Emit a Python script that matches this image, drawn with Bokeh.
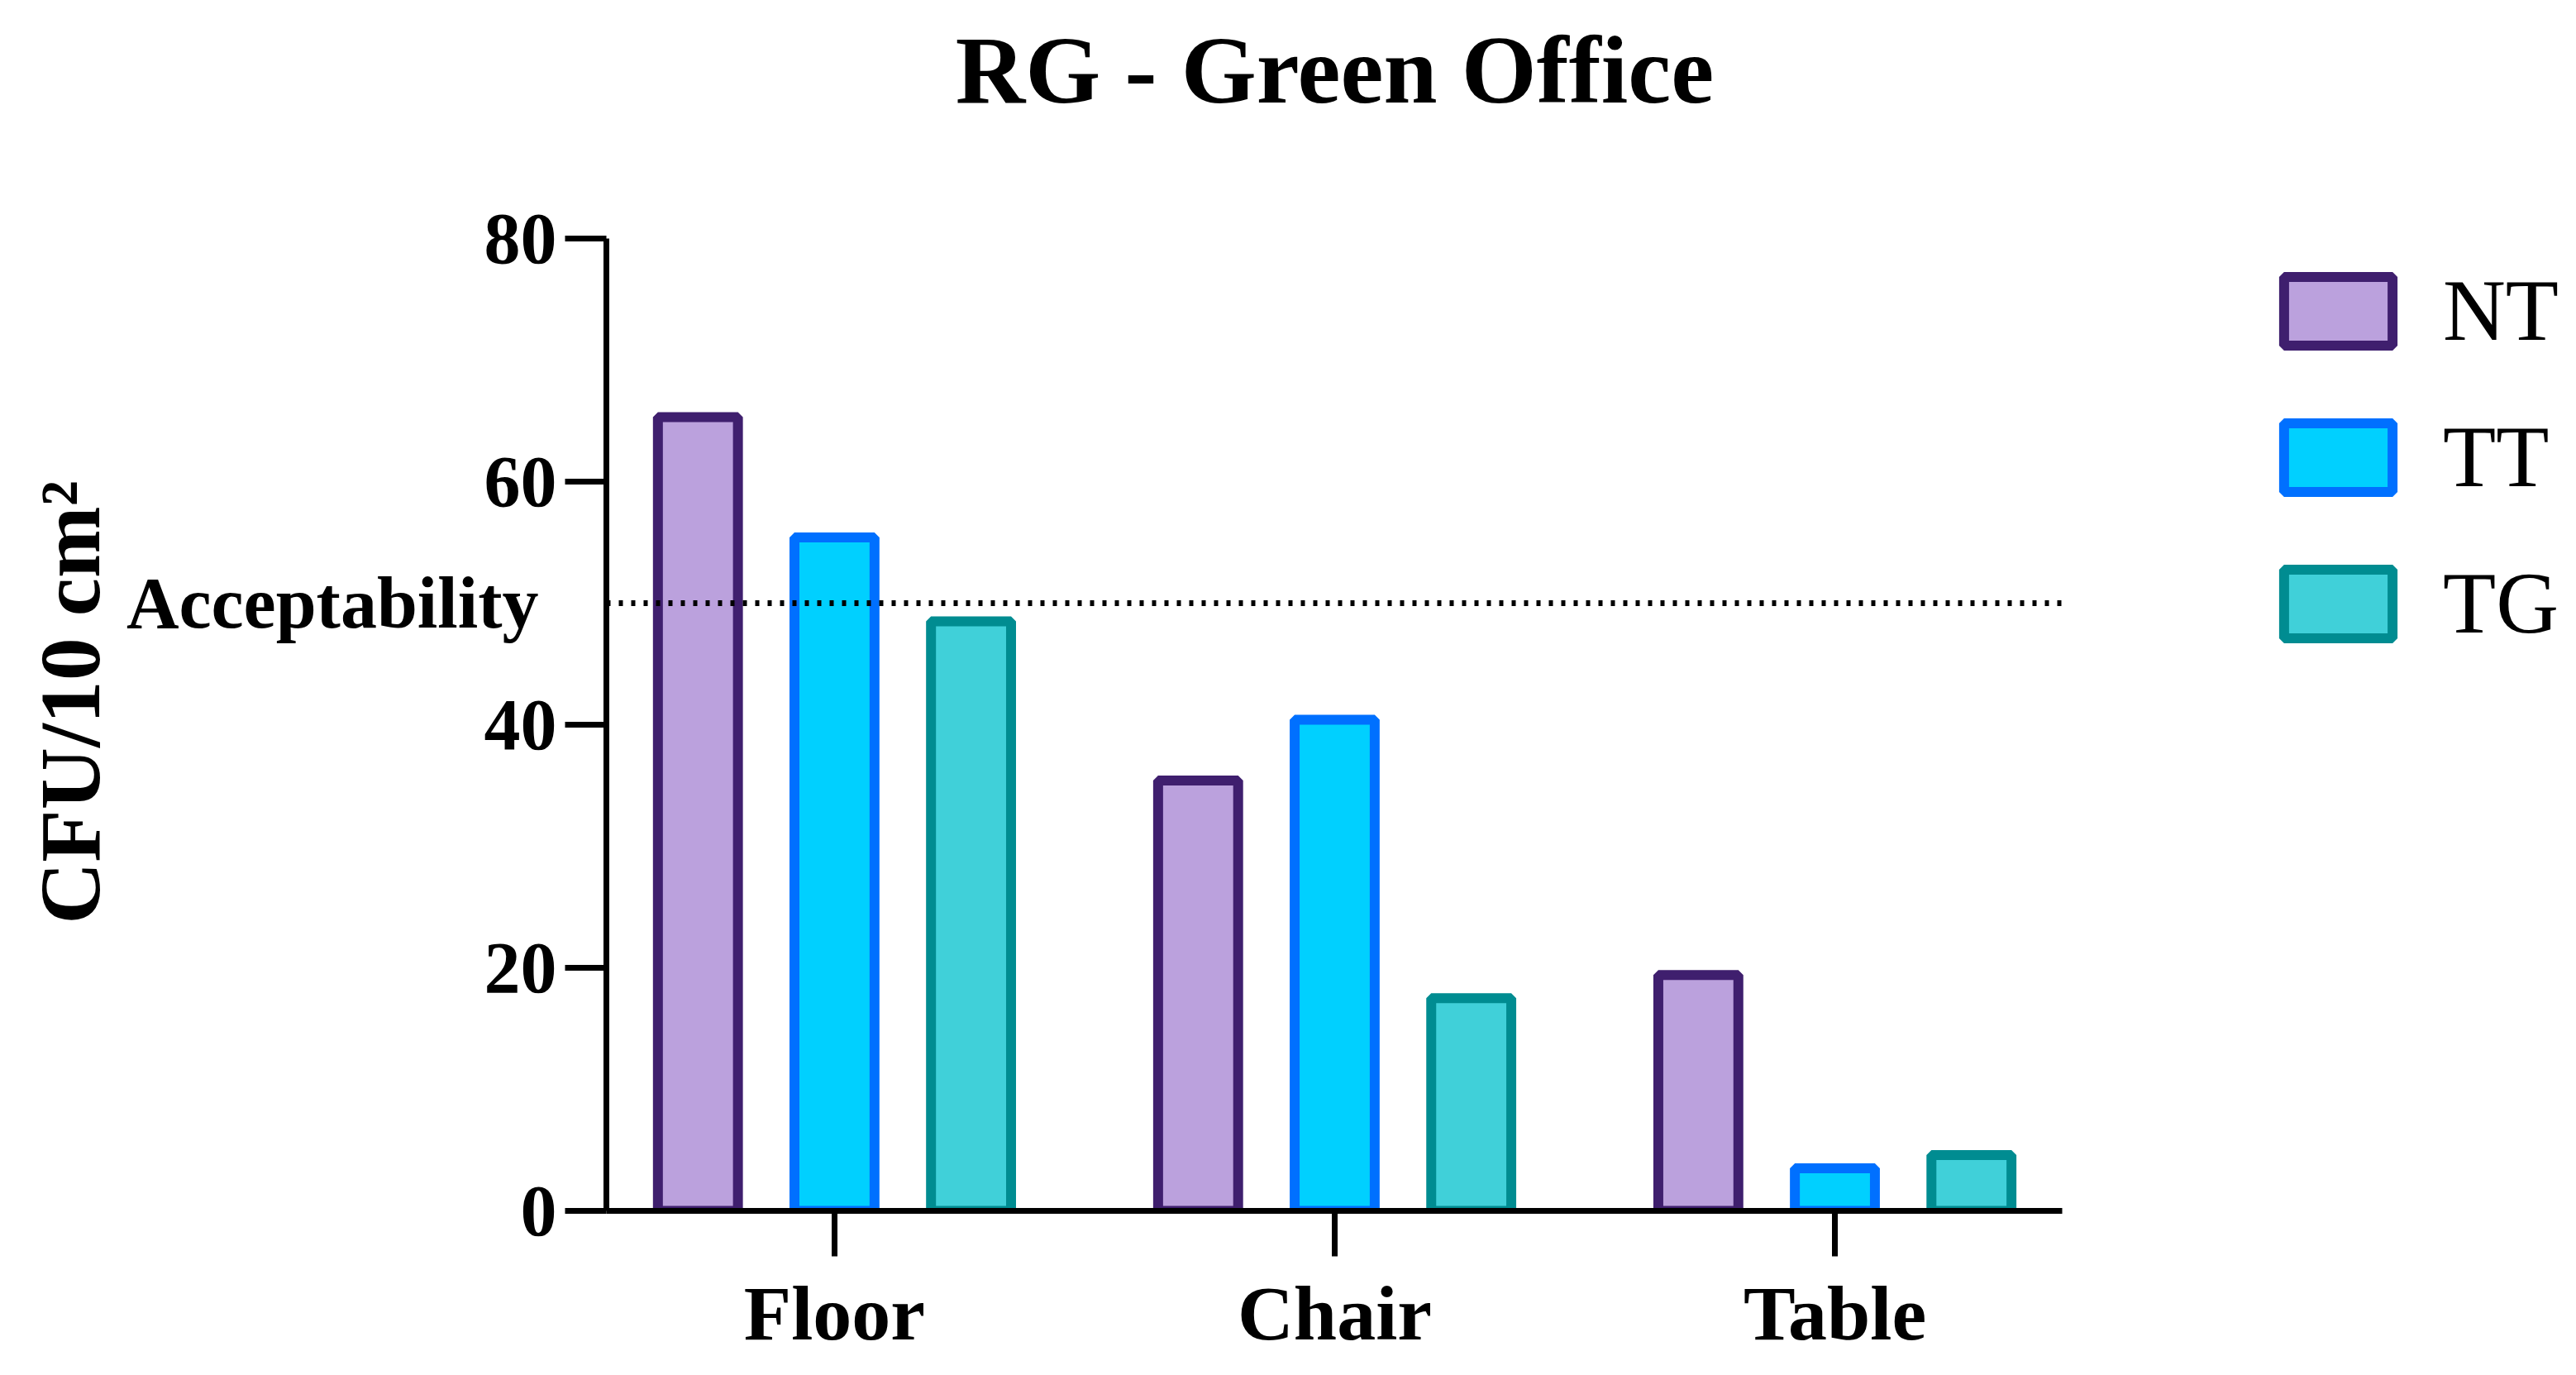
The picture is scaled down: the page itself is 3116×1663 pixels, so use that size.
from bokeh.plotting import figure
from bokeh.models import (Legend, LegendItem, FixedTicker, Range1d, Label,
                          ColumnDataSource, LinearAxis)
from bokeh.embed import file_html
from bokeh.resources import INLINE

# ---- data ----
title_text = "RG - Green Office"
categories = ["Floor", "Chair", "Table"]
series = ["NT", "TT", "TG"]
nt_values = [65.3, 35.4, 19.4]
tt_values = [55.4, 40.4, 3.5]
tg_values = [48.5, 17.5, 4.6]
acceptability_value = 50
acceptability_text = "Acceptability"
y_ticks = [0, 20, 40, 60, 80]
y_label = "CFU/10 cm\u00b2"

fills = ["#BBA1DD", "#00D0FF", "#40D0D9"]
lines = ["#3F1F6E", "#0070FF", "#008C91"]

FONT = "Liberation Serif"

# axis extents (data units)
X_START, X_AXIS_END, X_END = -0.456, 2.4545, 3.456
Y_AXIS_END, Y_END = 80, 99.59
TITLE_Y = 93.9

W, H = 3100, 1647
p = figure(width=W, height=H, output_backend="svg", toolbar_location=None,
           x_range=Range1d(X_START, X_END), y_range=Range1d(0, Y_END),
           min_border_left=733, min_border_right=0, min_border_top=0,
           min_border_bottom=183)
p.outline_line_color = None
p.xgrid.grid_line_color = None
p.ygrid.grid_line_color = None
p.background_fill_color = "white"
p.border_fill_color = "white"

positions = list(range(len(categories)))
offsets = [-0.273, 0.0, 0.273]
bar_w = 0.16
renderers = []
for vals, off, fc, lc in zip([nt_values, tt_values, tg_values], offsets, fills, lines):
    src = ColumnDataSource(dict(x=[c + off for c in positions], top=vals))
    r = p.vbar(x="x", top="top", bottom=0, width=bar_w, source=src,
               fill_color=fc, line_color=lc, line_width=12)
    renderers.append(r)

# acceptability line (from y axis to end of x axis)
p.line(x=[X_START, X_AXIS_END], y=[acceptability_value, acceptability_value],
       line_color="black", line_width=7, line_dash="5 10")

# x axis
xa = p.xaxis[0]
xa.bounds = (X_START, X_AXIS_END)
xa.ticker = FixedTicker(ticks=positions)
xa.major_label_overrides = {i: c for i, c in enumerate(categories)}
xa.major_tick_out = 55
xa.major_label_standoff = 16
xa.major_label_text_font_size = "94px"

# y axis (line + tick marks only)
ya = p.yaxis[0]
ya.bounds = (0, Y_AXIS_END)
ya.ticker = FixedTicker(ticks=y_ticks)
ya.major_label_overrides = {t: "" for t in y_ticks}
ya.major_tick_out = 50
ya.major_label_standoff = 0

for ax in (xa, ya):
    ax.axis_line_width = 7
    ax.axis_line_color = "black"
    ax.major_tick_line_width = 7
    ax.major_tick_line_color = "black"
    ax.major_tick_in = 0
    ax.minor_tick_line_color = None
    ax.major_label_text_font = FONT
    ax.major_label_text_font_style = "bold"
    ax.major_label_text_color = "black"

# y labels axis (numbers + acceptability label + axis title)
yl = LinearAxis(bounds=(0, Y_AXIS_END),
                ticker=FixedTicker(ticks=y_ticks + [acceptability_value]),
                major_label_overrides={acceptability_value: acceptability_text + "\u00a0"},
                axis_line_color=None, major_tick_line_color=None,
                minor_tick_line_color=None, major_tick_in=0, major_tick_out=0,
                major_label_standoff=10,
                major_label_text_font=FONT, major_label_text_font_style="bold",
                major_label_text_font_size="88px", major_label_text_color="black",
                axis_label=y_label + "\u00a0" * 9,
                axis_label_standoff=8,
                axis_label_text_font=FONT, axis_label_text_font_style="bold",
                axis_label_text_font_size="104px", axis_label_text_color="black")
p.add_layout(yl, "left")

# chart title
p.add_layout(Label(x=1.0, y=TITLE_Y, text=title_text, text_align="center",
                   text_baseline="alphabetic", text_font=FONT,
                   text_font_style="bold", text_font_size="117px",
                   text_color="black"))

legend = Legend(items=[LegendItem(label=s, renderers=[r]) for s, r in zip(series, renderers)],
                location=(2013, 674), orientation="vertical",
                glyph_width=164, glyph_height=104, label_height=104,
                label_standoff=45, spacing=56, padding=0, margin=0,
                border_line_color=None, background_fill_alpha=0,
                label_text_font=FONT, label_text_font_size="105px",
                label_text_color="black")
p.add_layout(legend)

open("out.html", "w").write(file_html(p, INLINE))
